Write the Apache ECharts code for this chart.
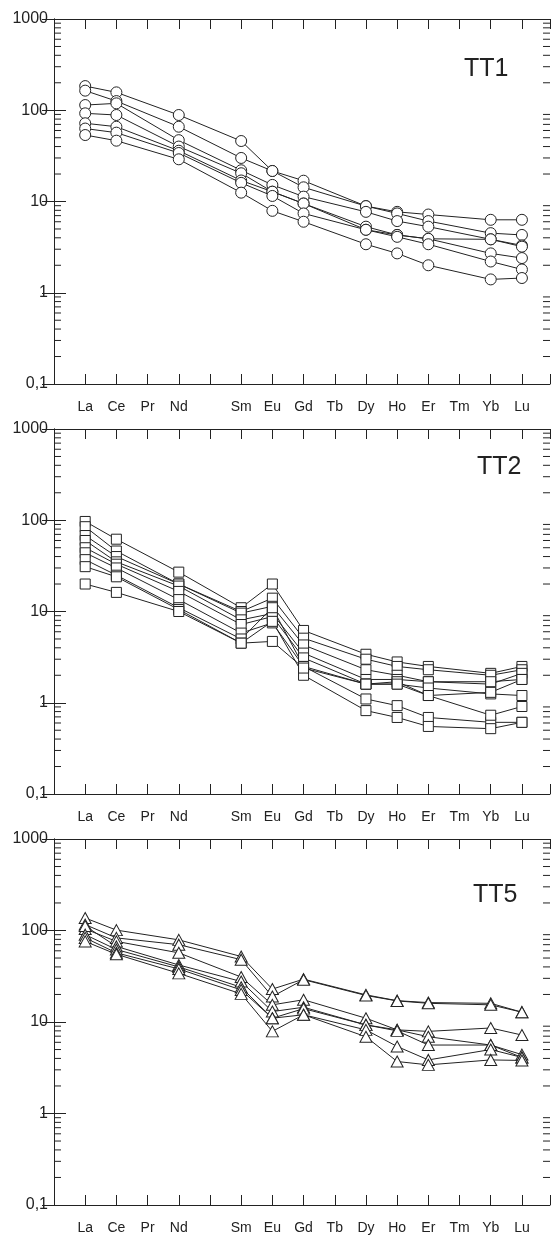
<!DOCTYPE html>
<html><head><meta charset="utf-8">
<script src="https://cdn.jsdelivr.net/npm/echarts@6/dist/echarts.min.js"></script>
<style>html,body{margin:0;padding:0;background:#fff}#c{width:553px;height:1238px}</style>
</head><body><div id="c"></div>
<script>
// x slots (Pm left blank)
const SLOTS = ['', 'La','Ce','Pr','Nd','','Sm','Eu','Gd','Tb','Dy','Ho','Er','Tm','Yb','Lu'];
const ANALYSED = ['La','Ce','Nd','Sm','Eu','Gd','Dy','Ho','Er','Yb','Lu'];
const Y_TICK_LABELS = ['0,1','1','10','100','1000'];
const PANEL_NAMES = ['TT1','TT2','TT5'];

const TT1 = [
  [184, 157, 88.7, 46, 21.6, 16.9, 8.9, 7.7, 7.2, 6.3, 6.3],
  [164, 126, 66, 30, 21.6, 14.3, 8.9, 7.4, 6.1, 4.5, 4.3],
  [114, 119, 47, 22, 15.2, 11.3, 7.7, 6.1, 5.3, 3.85, 3.3],
  [92.5, 88.7, 40, 20.4, 12.8, 9.5, 5.3, 4.3, 3.9, 3.85, 3.2],
  [72, 66, 36, 17, 12.8, 9.5, 4.9, 4.3, 3.9, 2.7, 2.4],
  [63, 56.8, 34, 16, 11.5, 7.4, 4.9, 4.1, 3.4, 2.2, 1.8],
  [53.5, 46.4, 29, 12.5, 7.9, 6.0, 3.4, 2.7, 2.0, 1.4, 1.45]
];
const TT2 = [
  [97, 62, 27, 11, 20, 6.2, 3.4, 2.8, 2.5, 2.1, 2.5],
  [85, 46, 20, 10, 14, 5.1, 3.0, 2.5, 2.3, 2.0, 2.3],
  [68, 40, 20, 9.6, 11.4, 4.3, 2.3, 2.0, 1.7, 1.6, 2.1],
  [60, 35, 19, 8.1, 9.5, 3.5, 1.8, 1.8, 1.7, 1.7, 1.8],
  [50, 33, 16.6, 7.2, 8.8, 3.1, 1.6, 1.6, 1.45, 1.25, 1.2],
  [44, 30, 13.5, 5.8, 7.5, 2.5, 1.6, 1.7, 1.2, 1.3, 1.8],
  [37, 25, 11, 5.0, 11, 2.5, 1.1, 0.93, 0.69, 0.61, 0.61],
  [31, 24, 10.5, 4.5, 7.8, 2.0, 0.82, 0.69, 0.55, 0.52, 0.61],
  [20, 16.2, 10, 4.5, 4.7, 2.4, 1.6, 1.6, 1.2, 0.73, 0.91]
];
const TT5 = [
  [137, 101, 79, 52, 22.9, 29.4, 19.8, 17.1, 16.3, 16, 12.8],
  [116, 83, 70, 48, 19, 29, 19.5, 17, 16, 15.4, 12.8],
  [104, 76, 57, 31, 15.4, 17.5, 11, 8.2, 7.9, 8.6, 7.2],
  [112, 67, 42, 27.7, 13, 14.5, 9.3, 8.2, 6.9, 5.6, 4.4],
  [90, 62, 40, 24, 11, 14, 9.3, 8.0, 5.6, 5.6, 4.1],
  [83, 57, 38, 22.4, 11, 12, 8.2, 5.4, 3.85, 5.0, 4.1],
  [76, 55, 34, 20.3, 7.9, 12, 6.9, 3.7, 3.4, 3.85, 3.8]
];

const FONT = '"Liberation Sans", Arial, sans-serif';
const INK = '#222';
const XMIN = 0, XMAX = 15.9;
const YMIN = 0.1, YMAX = 1000;
const MINOR = [];
for (let d = YMIN; d < YMAX; d *= 10) for (let k = 2; k <= 9; k++) MINOR.push(+(k * d).toPrecision(3));

const panels = [
  {data: TT1, symbol: 'circle', size: 11, top: 19, height: 365, title: {left: 464, top: 57}},
  {data: TT2, symbol: 'rect', size: 10, top: 429, height: 365, title: {left: 477, top: 455}},
  {data: TT5, symbol: 'triangle', size: [12, 11], top: 839, height: 366, title: {left: 473, top: 883}}
];

const grid = [], xAxis = [], yAxis = [], series = [], title = [];
panels.forEach((p, i) => {
  grid.push({left: 54, width: 498, top: p.top, height: p.height});
  const xBase = {
    type: 'value', gridIndex: i, min: XMIN, max: XMAX, interval: 1,
    axisLine: {lineStyle: {color: INK, width: 1}},
    axisTick: {inside: true, length: 10, lineStyle: {color: INK, width: 1}},
    splitLine: {show: false}
  };
  xAxis.push(Object.assign({}, xBase, {
    position: 'bottom',
    axisLabel: {margin: 16, fontSize: 14, color: INK, fontFamily: FONT,
      formatter: v => Number.isInteger(v) ? (SLOTS[v] || '') : ''}
  }));
  xAxis.push(Object.assign({}, xBase, {position: 'top', axisLabel: {show: false}}));
  const yBase = {
    type: 'log', logBase: 10, gridIndex: i, min: YMIN, max: YMAX,
    axisLine: {lineStyle: {color: INK, width: 1}},
    axisTick: {inside: true, length: 12, lineStyle: {color: INK, width: 1}},
    splitLine: {show: false}
  };
  yAxis.push(Object.assign({}, yBase, {
    position: 'left',
    axisLabel: {margin: 6, fontSize: 16, color: INK, fontFamily: FONT,
      formatter: v => Y_TICK_LABELS[Math.round(Math.log10(v)) + 1]}
  }));
  yAxis.push(Object.assign({}, yBase, {position: 'right', axisLabel: {show: false}}));

  // minor log ticks on both vertical axes
  series.push({
    type: 'custom', xAxisIndex: 2 * i, yAxisIndex: 2 * i, silent: true, z: 1,
    data: MINOR.map(v => [XMIN, v]),
    renderItem: (params, api) => {
      const v = api.value(1);
      const l = api.coord([XMIN, v]);
      const r = api.coord([XMAX, v]);
      return {type: 'group', children: [
        {type: 'line', shape: {x1: l[0], y1: l[1], x2: l[0] + 7, y2: l[1]}, style: {stroke: INK, lineWidth: 1}},
        {type: 'line', shape: {x1: r[0] - 7, y1: r[1], x2: r[0], y2: r[1]}, style: {stroke: INK, lineWidth: 1}}
      ]};
    }
  });

  p.data.forEach(row => {
    series.push({
      type: 'line', xAxisIndex: 2 * i, yAxisIndex: 2 * i,
      data: ANALYSED.map((el, j) => [SLOTS.indexOf(el), row[j]]),
      symbol: p.symbol, symbolSize: p.size, showSymbol: true,
      lineStyle: {color: INK, width: 1},
      itemStyle: {color: '#fff', borderColor: INK, borderWidth: 1},
      emphasis: {disabled: true}, z: 2
    });
  });

  title.push({text: PANEL_NAMES[i], left: p.title.left, top: p.title.top, padding: 0,
    textStyle: {fontSize: 25, fontWeight: 'normal', color: INK, fontFamily: FONT}});
});

const chart = echarts.init(document.getElementById('c'), null, {renderer: 'canvas'});
chart.setOption({animation: false, title, grid, xAxis, yAxis, series});
</script>
</body></html>
